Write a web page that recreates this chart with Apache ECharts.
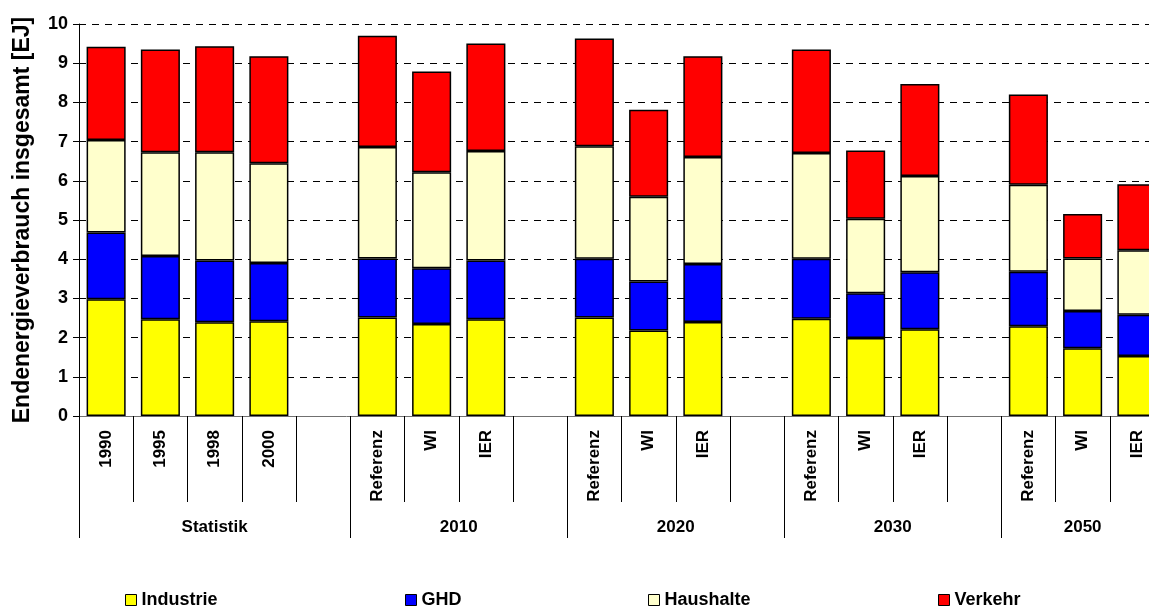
<!DOCTYPE html>
<html>
<head>
<meta charset="utf-8">
<script src="https://cdn.jsdelivr.net/npm/echarts@6/dist/echarts.min.js"></script>
<style>
  html, body { margin: 0; padding: 0; background: #fff; }
  #chart { width: 1149px; height: 607px; }
</style>
</head>
<body>
<div id="chart"></div>
<script>
// Bar slots: empty strings are spacer slots between the scenario groups
const categories = ['1990', '1995', '1998', '2000', '',
  'Referenz', 'WI', 'IER', '',
  'Referenz', 'WI', 'IER', '',
  'Referenz', 'WI', 'IER', '',
  'Referenz', 'WI', 'IER'];

// Group captions under the slots and how many slots each group spans
const groupLabels = ['Statistik', '2010', '2020', '2030', '2050'];
const groupSpans = [5, 4, 4, 4, 3];

// Final energy use per sector [EJ]
const industrie = [2.98, 2.47, 2.39, 2.42, null, 2.51, 2.35, 2.47, null, 2.51, 2.18, 2.40, null, 2.48, 1.99, 2.21, null, 2.29, 1.73, 1.53];
const ghd       = [1.70, 1.61, 1.58, 1.48, null, 1.51, 1.42, 1.50, null, 1.50, 1.25, 1.48, null, 1.53, 1.14, 1.46, null, 1.39, 0.95, 1.05];
const haushalte = [2.36, 2.65, 2.76, 2.55, null, 2.84, 2.45, 2.79, null, 2.87, 2.16, 2.73, null, 2.70, 1.90, 2.45, null, 2.22, 1.34, 1.65];
const verkehr   = [2.38, 2.62, 2.70, 2.73, null, 2.84, 2.57, 2.74, null, 2.75, 2.22, 2.57, null, 2.64, 1.74, 2.35, null, 2.30, 1.13, 1.68];

const seriesNames = ['Industrie', 'GHD', 'Haushalte', 'Verkehr'];
const seriesColors = ['#FFFF00', '#0000FF', '#FFFFCC', '#FF0000'];
const seriesData = [industrie, ghd, haushalte, verkehr];

// Group axis on a half-slot grid: boundaries get long ticks, centres get captions
const halfCount = categories.length * 2;
const groupCats = new Array(halfCount + 1).fill('');
const boundaryIdx = new Set();
const centreIdx = new Set();
let pos = 0;
groupSpans.forEach((span, i) => {
  boundaryIdx.add(pos * 2);
  const c = pos * 2 + span;
  centreIdx.add(c);
  groupCats[c] = groupLabels[i];
  pos += span;
});

const FONT = 'Liberation Sans, Arial, sans-serif';
const chart = echarts.init(document.getElementById('chart'), null, { renderer: 'canvas' });

const legendLefts = [125, 405, 648, 938];

chart.setOption({
  animation: false,
  textStyle: { fontFamily: FONT },
  grid: {
    left: 79, top: 24, width: 1085, height: 392,
    containLabel: false,
    outerBoundsMode: 'none'
  },
  legend: seriesNames.map((n, i) => ({
    data: [n],
    left: legendLefts[i],
    top: 591,
    padding: 0,
    itemWidth: 11,
    itemHeight: 11,
    itemGap: 0,
    icon: 'rect',
    itemStyle: { borderColor: '#000', borderWidth: 1 },
    textStyle: { fontFamily: FONT, fontSize: 18, fontWeight: 'bold', color: '#000' },
    selectedMode: false
  })),
  xAxis: [
    {
      type: 'category',
      data: categories,
      position: 'bottom',
      boundaryGap: true,
      axisLine: { show: true, lineStyle: { color: '#707070', width: 1 } },
      axisTick: { show: true, interval: 0, length: 86, lineStyle: { color: '#000', width: 1 } },
      axisLabel: {
        interval: 0, rotate: 90, margin: 14,
        fontFamily: FONT, fontSize: 17, fontWeight: 'bold', color: '#000'
      },
      splitLine: { show: false }
    },
    {
      type: 'category',
      data: groupCats,
      position: 'bottom',
      offset: 0,
      boundaryGap: false,
      axisLine: { show: false },
      axisTick: {
        show: true, length: 122,
        interval: (idx) => boundaryIdx.has(idx),
        lineStyle: { color: '#000', width: 1 }
      },
      axisLabel: {
        interval: (idx) => centreIdx.has(idx),
        margin: 103,
        fontFamily: FONT, fontSize: 17, fontWeight: 'bold', color: '#000'
      },
      splitLine: { show: false }
    }
  ],
  yAxis: {
    type: 'value',
    min: 0, max: 10, interval: 1,
    name: 'Endenergieverbrauch insgesamt [EJ]',
    nameLocation: 'middle',
    nameRotate: 90,
    nameGap: 45,
    nameTextStyle: { fontFamily: FONT, fontSize: 23, fontWeight: 'bold', color: '#000' },
    axisLine: { show: true, lineStyle: { color: '#000', width: 1 } },
    axisTick: { show: true, length: 6, lineStyle: { color: '#000' } },
    axisLabel: { margin: 11, fontFamily: FONT, fontSize: 18, fontWeight: 'bold', color: '#000' },
    splitLine: { show: true, lineStyle: { color: '#000', width: 1, type: [7, 6] } }
  },
  series: seriesNames.map((n, i) => ({
    name: n,
    type: 'bar',
    stack: 'total',
    xAxisIndex: 0,
    barCategoryGap: '28%',
    data: seriesData[i],
    itemStyle: { color: seriesColors[i], borderColor: '#000', borderWidth: 1.5 },
    emphasis: { disabled: true }
  }))
});
</script>
</body>
</html>
